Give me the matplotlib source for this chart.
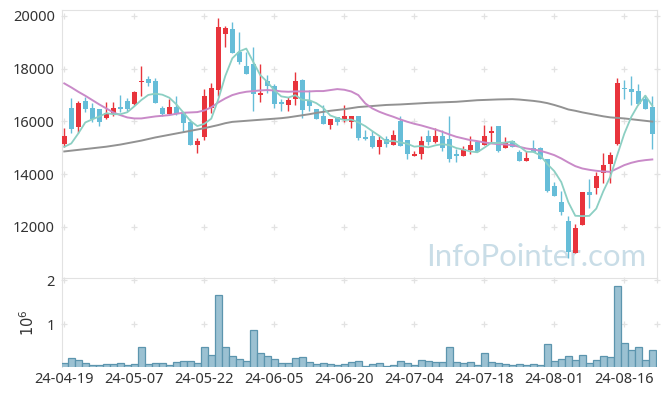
import matplotlib
matplotlib.use("Agg")
import matplotlib.pyplot as plt
import numpy as np
import pandas as pd

# ---------------- data ----------------
tick_pos = [0, 10, 20, 30, 40, 50, 60, 70, 80]
tick_labels = ["24-04-19", "24-05-07", "24-05-22", "24-06-05", "24-06-20",
               "24-07-04", "24-07-18", "24-08-01", "24-08-16"]

opens = [15150, 16490, 15790, 16780, 16510, 16450, 16140, 16260, 16540, 16770,
         16640, 17500, 17600, 17510, 16490, 16290, 16530, 16300, 15980, 15120,
         15420, 16490, 17200, 19320, 19500, 18620, 18090, 18160, 17010, 17520,
         17340, 16730, 16630, 16860, 17560, 16780, 16450, 16200, 15860, 16150,
         16090, 15980, 16200, 15400, 15440, 15020, 15330, 15100, 16030, 15290,
         14700, 14750, 15440, 15230, 15440, 15330, 14760, 14700, 14910, 15230,
         15100, 15570, 15830, 15000, 15250, 14850, 14510, 15000, 15000, 14590,
         13550, 12930, 12220, 11000, 12090, 13310, 13480, 14050, 14370, 15140,
         17260, 17220, 17150, 16830, 16530]
highs = [15730, 16870, 16770, 16930, 16700, 16470, 16720, 16720, 16990, 16870,
         17150, 18090, 17710, 17660, 16580, 16840, 16970, 16360, 16090, 15380,
         17210, 17440, 19900, 19600, 19750, 19370, 18620, 18800, 18190, 17750,
         17410, 16830, 16930, 17850, 17600, 17200, 16450, 16620, 16070, 16150,
         16620, 16200, 16200, 15690, 15640, 15440, 15440, 15690, 16190, 15290,
         14870, 15440, 15670, 15730, 15670, 16210, 14940, 15070, 15450, 15250,
         15860, 15830, 15830, 15410, 15290, 14910, 14890, 15310, 15040, 14590,
         13710, 13370, 12420, 12130, 13310, 13810, 14090, 14820, 14850, 17660,
         17560, 17710, 17400, 16990, 16960]
lows = [15040, 15570, 15540, 16340, 15960, 15830, 16090, 16210, 16360, 16390,
        16620, 16970, 17350, 16700, 16210, 16260, 16240, 15580, 15120, 14820,
        15300, 16300, 16970, 18830, 18600, 18160, 17800, 16390, 16740, 17070,
        16490, 16410, 16410, 16620, 16110, 16390, 16100, 15900, 15710, 15860,
        15960, 15730, 15300, 15300, 15000, 14770, 15010, 15100, 15070, 14590,
        14700, 14590, 15100, 15180, 14870, 14470, 14470, 14700, 14780, 14830,
        15100, 15190, 14850, 15000, 15040, 14510, 14510, 14850, 14560, 13310,
        13170, 12450, 10830, 11000, 12090, 12700, 13240, 13650, 13650, 15100,
        16840, 16620, 16620, 16450, 14950]
closes = [15440, 15710, 16680, 16460, 16090, 15980, 16330, 16490, 16460, 16460,
          17100, 17520, 17460, 16700, 16270, 16530, 16270, 15920, 15120, 15260,
          16960, 17250, 19570, 19550, 18600, 18260, 17800, 17020, 17070, 17320,
          16670, 16640, 16810, 17510, 16440, 16590, 16100, 15910, 16070, 15960,
          16200, 16200, 15380, 15350, 15020, 15310, 15130, 15480, 15070, 14770,
          14760, 15250, 15230, 15440, 15000, 14570, 14700, 14940, 15100, 14830,
          15440, 15630, 14890, 15190, 15040, 14510, 14620, 14850, 14560, 13370,
          13170, 12550, 11060, 11970, 13310, 13210, 13930, 14340, 14720, 17440,
          17220, 17120, 16640, 16450, 15530]
volumes_m = [0.12, 0.233, 0.188, 0.12, 0.075, 0.075, 0.098, 0.098, 0.12, 0.083,
             0.098, 0.481, 0.098, 0.12, 0.12, 0.075, 0.143, 0.165, 0.165, 0.12,
             0.481, 0.30, 1.654, 0.481, 0.278, 0.21, 0.165, 0.865, 0.346, 0.278,
             0.21, 0.12, 0.12, 0.233, 0.256, 0.143, 0.098, 0.12, 0.098, 0.075,
             0.098, 0.143, 0.165, 0.06, 0.098, 0.12, 0.053, 0.075, 0.165, 0.12,
             0.075, 0.188, 0.165, 0.143, 0.143, 0.481, 0.143, 0.12, 0.143, 0.075,
             0.346, 0.143, 0.12, 0.098, 0.075, 0.098, 0.075, 0.098, 0.075, 0.549,
             0.165, 0.21, 0.278, 0.188, 0.30, 0.12, 0.188, 0.278, 0.256, 1.857,
             0.571, 0.414, 0.481, 0.188, 0.414]
# first values of the 5-day average (depend on earlier sessions)
ma5_head = [15036, 15163, 15542, 15958]
ma20 = [17436, 17285, 17120, 16969, 16805, 16640, 16489, 16337, 16236, 16148,
        16110, 16110, 16148, 16186, 16211, 16236, 16287, 16325, 16337, 16350,
        16413, 16530, 16716, 16868, 16994, 17070, 17120, 17146, 17171, 17184,
        17171, 17133, 17120, 17133, 17133, 17133, 17146, 17146, 17184, 17221,
        17196, 17130, 16994, 16678, 16489, 16363, 16262, 16173, 16072, 15984,
        15908, 15845, 15769, 15693, 15605, 15504, 15415, 15352, 15289, 15251,
        15201, 15163, 15137, 15125, 15100, 15036, 14973, 14935, 14885, 14809,
        14721, 14594, 14443, 14304, 14215, 14165, 14127, 14102, 14089, 14215,
        14342, 14430, 14494, 14531, 14557]
ma_long = [14860, 14890, 14920, 14950, 14980, 15010, 15040, 15080, 15120, 15170,
           15220, 15270, 15330, 15390, 15440, 15490, 15540, 15590, 15640, 15690,
           15740, 15800, 15860, 15930, 15980, 16000, 16020, 16040, 16060, 16080,
           16100, 16120, 16150, 16190, 16230, 16270, 16320, 16360, 16400, 16430,
           16460, 16500, 16540, 16560, 16580, 16600, 16620, 16630, 16640, 16655,
           16670, 16685, 16700, 16710, 16720, 16730, 16740, 16760, 16780, 16800,
           16810, 16820, 16830, 16835, 16840, 16825, 16800, 16775, 16740, 16690,
           16620, 16540, 16450, 16400, 16340, 16290, 16240, 16190, 16150, 16130,
           16110, 16080, 16050, 16020, 15990]

# ---------------- derived ----------------
o = np.array(opens, float)
h = np.array(highs, float)
l = np.array(lows, float)
c = np.array(closes, float)
v = np.array(volumes_m) * 1e6
x = np.arange(len(c))
ma5 = pd.Series(c).rolling(5).mean().to_numpy()
ma5[:4] = ma5_head

UP = "#e8343c"
DOWN = "#66bdd8"
GRID = "#e2e2e2"
SPINE = "#e2e2e2"
TXT = "#333333"

plt.rcParams["font.family"] = ["Noto Sans", "DejaVu Sans"]

fig = plt.figure(figsize=(6.65, 3.96), dpi=100)
L, W = 61.7 / 665, 595.0 / 665
ax = fig.add_axes([L, (396 - 278) / 396, W, 268 / 396])
axv = fig.add_axes([L, (396 - 366.7) / 396, W, 88.7 / 396], sharex=ax)

xlim = (-0.37, 84.63)

# ----- price panel -----
up = c >= o
cols = np.where(up, UP, DOWN)
ax.vlines(x, l, h, colors=cols, linewidth=1.0, zorder=3)
body_lo = np.minimum(o, c)
body_h = np.maximum(np.abs(c - o), 40)
ax.bar(x, body_h, bottom=body_lo, width=0.66, color=cols, linewidth=0, zorder=4)

ax.plot(x, ma_long, color="#929292", lw=1.4, zorder=5)
ax.plot(x, ma20, color="#c98ac8", lw=1.4, zorder=5)
ax.plot(x, ma5, color="#8ccfc3", lw=1.3, zorder=6)

ax.set_xlim(*xlim)
ax.set_ylim(10068, 20216)
ax.set_yticks([12000, 14000, 16000, 18000, 20000])
ax.tick_params(axis="y", length=0, pad=5, labelsize=10.5, colors=TXT)
ax.tick_params(axis="x", length=0, labelbottom=False)
for s in ["left", "top", "right"]:
    ax.spines[s].set_color(SPINE)
ax.spines["bottom"].set_visible(False)

gx = list(tick_pos) + [xlim[1]]
GX, GY = np.meshgrid(gx, [12000, 14000, 16000, 18000, 20000])
ax.scatter(GX.ravel(), GY.ravel(), marker="+", s=18, color=GRID, linewidths=0.9,
           zorder=1, clip_on=False)

ax.text(0.983, 0.08, "InfoPointer.com", transform=ax.transAxes, ha="right",
        va="center", fontsize=22.4, color="#c9dde7", zorder=2,
        family=["Lato", "Open Sans", "DejaVu Sans"])

# ----- volume panel -----
axv.bar(x, v, width=1.0, color="#9bc1d2", edgecolor="#5c95ae", linewidth=0.9,
        zorder=3)
axv.set_ylim(0.045e6, 2.046e6)
axv.set_yticks([1e6, 2e6])
axv.set_yticklabels(["1", "2"])
axv.set_ylabel(r"$10^{6}$", fontsize=10.5, color=TXT, labelpad=6)
axv.tick_params(axis="y", length=0, pad=5, labelsize=10.5, colors=TXT)
axv.set_xticks(tick_pos)
axv.set_xticklabels(tick_labels)
axv.tick_params(axis="x", length=0, pad=4, labelsize=10.5, colors=TXT)
axv.spines["left"].set_color(SPINE)
axv.spines["top"].set_color(SPINE)
axv.spines["right"].set_visible(False)
axv.spines["bottom"].set_visible(False)
GX2, GY2 = np.meshgrid(gx, [1e6, 2e6])
axv.scatter(GX2.ravel(), GY2.ravel(), marker="+", s=18, color=GRID,
            linewidths=0.9, zorder=1, clip_on=False)
axv.set_xlim(*xlim)

fig.savefig("out.png", dpi=100)
